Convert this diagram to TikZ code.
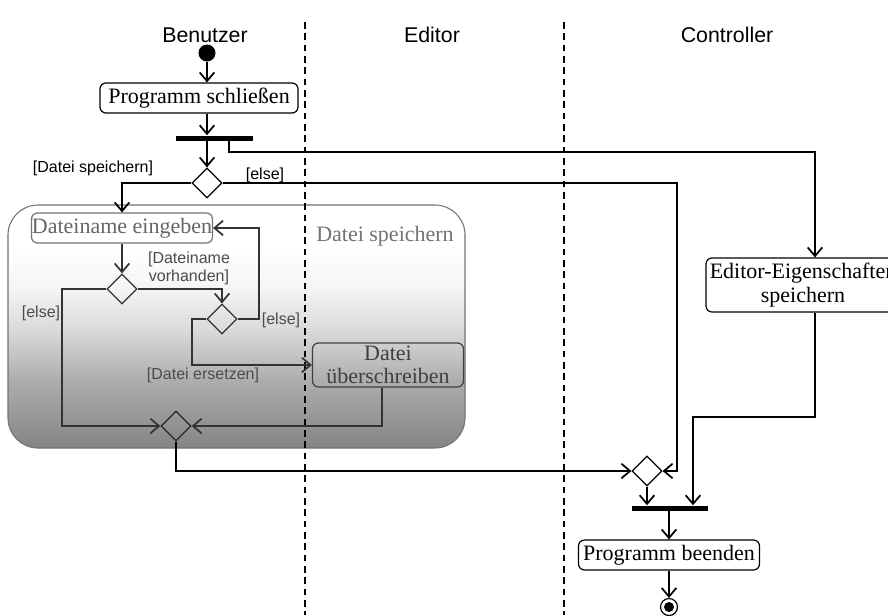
\documentclass[tikz,border=0pt]{standalone}
\usepackage{fontspec}
\setmainfont{Liberation Serif}
\newfontfamily\lsans{Liberation Sans}
\usetikzlibrary{shapes.geometric,arrows.meta}
\pgfdeclareverticalshading{grpshade}{100bp}{color(0bp)=(black!48); color(25bp)=(black!48); color(39bp)=(black!32); color(49bp)=(black!15); color(58bp)=(black!4); color(66bp)=(white); color(100bp)=(white)}
\begin{document}
\begin{tikzpicture}[x=0.75pt,y=-0.75pt,
  act/.style={draw, rounded corners=4.5pt, fill=white, font=\fontsize{16.5}{19}\selectfont, inner sep=0pt, align=center, line width=0.9pt},
  dec/.style={diamond, draw, fill=white, minimum width=22.5pt, minimum height=22.5pt, inner sep=0pt, line width=0.9pt},
  bar/.style={rectangle, fill=black, minimum height=3.75pt, inner sep=0pt},
  flow/.style={line width=1.3pt, -{Straight Barb[length=6.5pt,width=11pt]}},
  lbl/.style={font=\lsans\fontsize{12}{13.5}\selectfont, inner sep=0pt},
  hdr/.style={font=\lsans\fontsize{16}{18}\selectfont},
  lane/.style={dash pattern=on 5pt off 3.5pt, line width=1pt},
]
\useasboundingbox (0,0) rectangle (888,615);
\clip (0,0) rectangle (888,615);
\fill[white] (0,0) rectangle (888,615);

% group
\node[draw=black!55, line width=0.8pt, rounded corners=22.5pt, shade, shading=grpshade,
  minimum width=342.75pt, minimum height=182.25pt, inner sep=0pt] (grp) at (236.5,326.5) {};
\node[text=black!55, font=\fontsize{16.5}{19}\selectfont] (glbl) at (385,236) {Datei speichern};

% lanes
\coordinate (l1t) at (305,22); \coordinate (l1b) at (305,615);
\coordinate (l2t) at (564,22); \coordinate (l2b) at (564,615);
\draw[lane] (l1t) -- (l1b);
\draw[lane] (l2t) -- (l2b);

% headers
\node[hdr] (h1) at (205,35) {Benutzer};
\node[hdr] (h2) at (432,35) {Editor};
\node[hdr] (h3) at (727,35) {Controller};

% nodes
\node[circle, fill=black, minimum size=12.75pt, inner sep=0pt] (start) at (207,53) {};
\node[act, minimum width=148.5pt, minimum height=22.5pt] (ps) at (199,98) {Programm schließen};
\node[bar, minimum width=57.75pt] (fork) at (214.5,138) {};
\node[dec] (d1) at (207,183) {};
\node[act, draw=black!55, text=black!60, minimum width=135.75pt, minimum height=22.5pt] (dne) at (122,228) {Dateiname eingeben};
\node[dec, fill=none, draw=black!80] (d2) at (122,289) {};
\node[dec, fill=none, draw=black!80] (d3) at (222,319) {};
\node[act, fill=none, draw=black!75, text=black!75, minimum width=113.25pt, minimum height=33pt, font=\fontsize{16.5}{17}\selectfont] (dub) at (388,365) {Datei\\überschreiben};
\node[dec, fill=none, draw=black!85] (m1) at (176,426) {};
\node[act, minimum width=145.5pt, minimum height=40.5pt, font=\fontsize{16.5}{17.5}\selectfont] (ees) at (803,285) {Editor-Eigenschaften\\speichern};
\node[dec] (m2) at (647,471) {};
\node[bar, minimum width=57pt] (join) at (670,508) {};
\node[act, minimum width=135.75pt, minimum height=22.5pt] (pb) at (669,555) {Programm beenden};
\node[circle, draw, line width=0.9pt, minimum size=12.75pt, inner sep=0pt] (end) at (669,607) {};
\node[circle, fill=black, minimum size=7.5pt, inner sep=0pt] (endin) at (669,607) {};

% helper coordinates
\coordinate (a1) at (229,152);
\coordinate (a2) at (815,152);
\coordinate (r1) at (677,183);
\coordinate (b1) at (259,319);
\coordinate (b2) at (192,319);
\coordinate (c1) at (382,426);
\coordinate (e1) at (62,289);
\coordinate (g1) at (815,417);
\coordinate (g2) at (693,417);

% connectors
\draw[flow] (start) -- (start |- ps.north);
\draw[flow] (ps.south -| d1) -- (d1 |- fork.north);
\draw[flow] (d1 |- fork.south) -- (d1.north);
\draw[flow] (fork.south -| a1) -- (a1) -- (a2) -- (a2 |- ees.north);
\draw[flow] (d1.west) -| (dne.north);
\draw[flow] (d1.east) -- (r1) |- (m2.east);
\draw[flow, draw=black!80] (dne.south) -- (d2.north);
\draw[flow, draw=black!80] (d2.east) -| (d3.north);
\draw[flow, draw=black!80] (d3.east) -- (b1) |- (dne.east);
\draw[flow, draw=black!80] (d3.west) -- (b2) |- (dub.west);
\draw[flow, draw=black!80] (dub.south -| c1) -- (c1) -- (m1.east);
\draw[flow, draw=black!80] (d2.west) -- (e1) |- (m1.west);
\draw[flow] (m1.south) |- (m2.west);
\draw[flow] (ees.south -| g1) -- (g1) -- (g2) -- (g2 |- join.north);
\draw[flow] (m2.south) -- (m2 |- join.north);
\draw[flow] (pb |- join.south) -- (pb.north);
\draw[flow] (pb.south) -- (end.north);

% labels
\node[lbl] (t1) at (93,168) {[Datei speichern]};
\node[lbl] (t2) at (265,175) {[else]};
\node[lbl, text=black!70, align=center] (t3) at (189,268) {[Dateiname\\vorhanden]};
\node[lbl, text=black!70] (t4) at (281,320) {[else]};
\node[lbl, text=black!70] (t5) at (203,375) {[Datei ersetzen]};
\node[lbl, text=black!70] (t6) at (41,313) {[else]};
\end{tikzpicture}
\end{document}
